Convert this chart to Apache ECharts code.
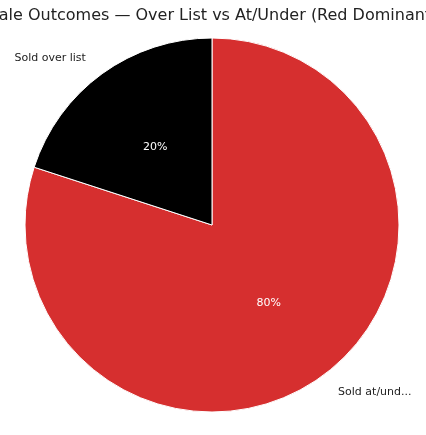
<!DOCTYPE html>
<html><head><meta charset="utf-8">
<script src="https://cdn.jsdelivr.net/npm/echarts@6/dist/echarts.min.js"></script>
<style>html,body{margin:0;padding:0;background:#fff}#c{width:426px;height:435px}</style>
</head><body><div id="c"></div>
<script>
const categories = ["Sold at/under list", "Sold over list"];
const values = [80, 20];
const colors = ["#d62f2f", "#000000"];
const data = categories.map((n, i) => ({name: n, value: values[i], itemStyle: {color: colors[i]}}));
const chart = echarts.init(document.getElementById('c'));
chart.setOption({
  animation: false,
  title: {text: "Sale Outcomes — Over List vs At/Under (Red Dominant)", left: 'center', top: 3,
    textStyle: {fontFamily: 'DejaVu Sans', fontSize: 16, fontWeight: 'normal', color: '#222'}},
  series: [{
    type: 'pie', center: [212, 225], radius: 187, startAngle: 90, clockwise: true,
    data: data, itemStyle: {borderColor: '#fff', borderWidth: 1},
    label: {position: 'outside', formatter: '{b}', fontFamily: 'DejaVu Sans', fontSize: 11, color: '#222'},
    labelLine: {show: false, length: 19, length2: 0}
  }, {
    type: 'pie', center: [212, 225], radius: [0, 187], startAngle: 90, clockwise: true, silent: true,
    data: data.map(d => ({name: d.name, value: d.value, itemStyle: {color: 'transparent'}})),
    label: {position: 'inner', formatter: '{d}%', fontFamily: 'DejaVu Sans', fontSize: 11, color: '#fff', distanceToLabelLine: 0},
    labelLine: {show: false}
  }]
});
</script></body></html>
